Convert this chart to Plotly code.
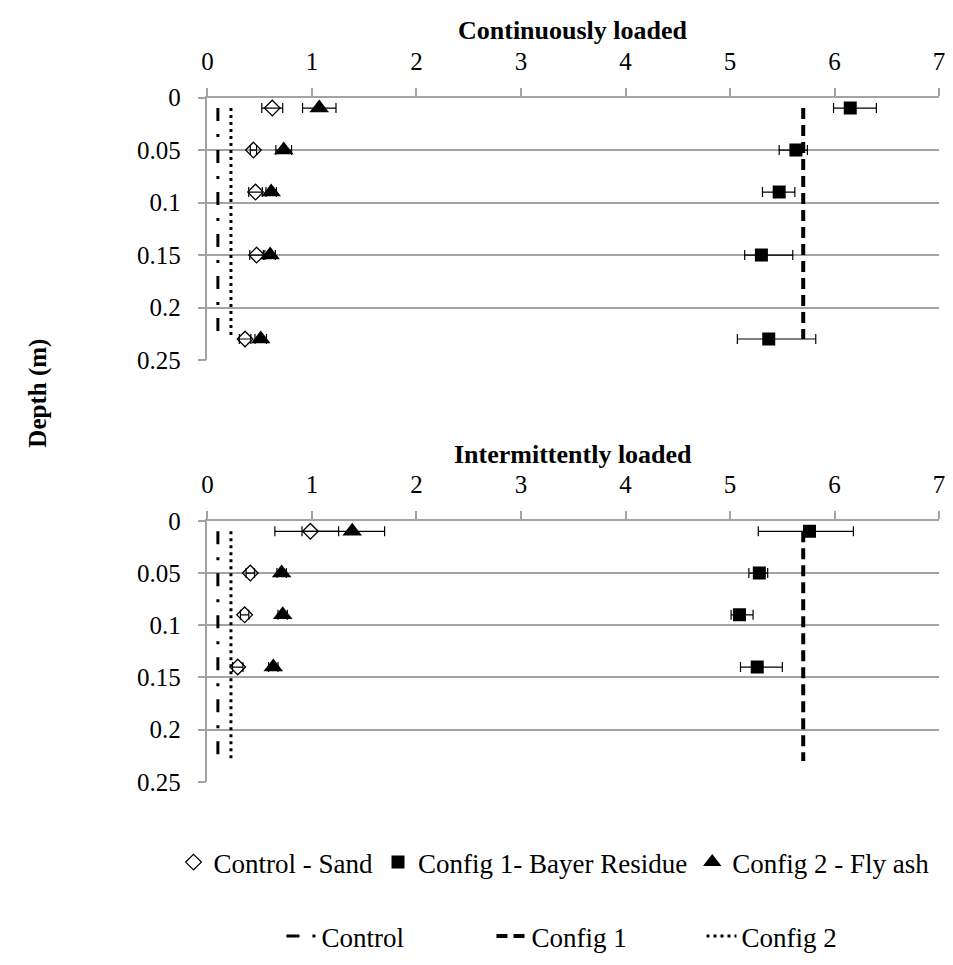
import plotly.graph_objects as go

# ---- Continuously loaded ----
cont_depth = [0.01, 0.05, 0.09, 0.15, 0.23]
cont_sand = [0.62, 0.44, 0.46, 0.47, 0.36]
cont_sand_err = [0.10, 0.03, 0.065, 0.065, 0.055]
cont_bayer = [6.15, 5.63, 5.47, 5.30, 5.37]
cont_bayer_err_minus = [0.16, 0.16, 0.16, 0.16, 0.30]
cont_bayer_err_plus = [0.25, 0.11, 0.15, 0.30, 0.45]
cont_flyash = [1.07, 0.73, 0.61, 0.60, 0.51]
cont_flyash_err = [0.16, 0.075, 0.05, 0.05, 0.055]

# ---- Intermittently loaded ----
int_depth = [0.01, 0.05, 0.09, 0.14]
int_sand = [0.985, 0.41, 0.356, 0.29]
int_sand_err_minus = [0.34, 0.04, 0.04, 0.05]
int_sand_err_plus = [0.27, 0.04, 0.04, 0.05]
int_bayer = [5.76, 5.28, 5.09, 5.26]
int_bayer_err_minus = [0.49, 0.10, 0.08, 0.16]
int_bayer_err_plus = [0.42, 0.08, 0.13, 0.24]
int_flyash = [1.385, 0.71, 0.72, 0.63]
int_flyash_err_minus = [0.48, 0.045, 0.045, 0.045]
int_flyash_err_plus = [0.31, 0.045, 0.045, 0.045]

# ---- Reference lines (same in both panels) ----
ref_depth = [0.01, 0.23]
control_value = 0.10
config1_value = 5.70
config2_value = 0.225

x_ticks = [0, 1, 2, 3, 4, 5, 6, 7]
depth_ticks = [0, 0.05, 0.1, 0.15, 0.2, 0.25]
depth_tick_text = ["0", "0.05", "0.1", "0.15", "0.2", "0.25"]

FONT = "Liberation Serif, Times New Roman, Times, serif"
GRID = "#a3a3a3"
W, H = 953, 965

fig = go.Figure()


def err(plus, minus=None):
    return dict(type="data", symmetric=minus is None, array=plus,
                arrayminus=minus, color="black", thickness=1.2, width=5)


def add_panel(xa, ya, depth, sand, sand_err, bayer, bayer_err, fly, fly_err, show):
    # reference lines first so markers sit on top
    fig.add_trace(go.Scatter(x=[control_value] * 2, y=ref_depth, mode="lines",
                             name="Control", legend="legend2", showlegend=show,
                             line=dict(color="black", width=3, dash="13px,13px,3px,13px"),
                             xaxis=xa, yaxis=ya))
    fig.add_trace(go.Scatter(x=[config1_value] * 2, y=ref_depth, mode="lines",
                             name="Config 1", legend="legend2", showlegend=show,
                             line=dict(color="black", width=4, dash="11px,6px"),
                             xaxis=xa, yaxis=ya))
    fig.add_trace(go.Scatter(x=[config2_value] * 2, y=ref_depth, mode="lines",
                             name="Config 2", legend="legend2", showlegend=show,
                             line=dict(color="black", width=3, dash="3px,4px"),
                             xaxis=xa, yaxis=ya))
    fig.add_trace(go.Scatter(x=sand, y=depth, mode="markers", name="Control - Sand",
                             legend="legend", showlegend=show,
                             marker=dict(symbol="diamond-open", size=12, color="black",
                                         line=dict(width=1.3, color="black")),
                             error_x=sand_err, xaxis=xa, yaxis=ya))
    fig.add_trace(go.Scatter(x=bayer, y=depth, mode="markers", name="Config 1- Bayer Residue",
                             legend="legend", showlegend=show,
                             marker=dict(symbol="square", size=13, color="black"),
                             error_x=bayer_err, xaxis=xa, yaxis=ya))
    fig.add_trace(go.Scatter(x=fly, y=depth, mode="markers", name="Config 2 - Fly ash",
                             legend="legend", showlegend=show,
                             marker=dict(symbol="triangle-up", size=17, color="black"),
                             error_x=fly_err, xaxis=xa, yaxis=ya))


add_panel("x", "y", cont_depth, cont_sand, err(cont_sand_err),
          cont_bayer, err(cont_bayer_err_plus, cont_bayer_err_minus),
          cont_flyash, err(cont_flyash_err), True)
add_panel("x2", "y2", int_depth, int_sand, err(int_sand_err_plus, int_sand_err_minus),
          int_bayer, err(int_bayer_err_plus, int_bayer_err_minus),
          int_flyash, err(int_flyash_err_plus, int_flyash_err_minus), False)

# plot areas in pixel terms
x_left, x_right = 204, 945
top_y0, top_y1 = 87, 357
bot_y0, bot_y1 = 522.5, 791

xdom = [x_left / W, x_right / W]


def ydom(y0, y1):
    return [1 - y1 / H, 1 - y0 / H]


tick_font = dict(family=FONT, size=25, color="black")
xaxis_style = dict(range=[0, 7], tickvals=x_ticks, side="top", showline=True,
                   linecolor=GRID, linewidth=1.5, ticks="outside", ticklen=8,
                   tickcolor=GRID, tickwidth=1.5, showgrid=False, zeroline=False,
                   tickfont=tick_font, ticklabelstandoff=8, domain=xdom)
yaxis_style = dict(range=[0.25, 0], tickvals=depth_ticks, ticktext=depth_tick_text,
                   showline=True, linecolor=GRID, linewidth=1.5, ticks="outside",
                   ticklen=8, tickcolor=GRID, tickwidth=1.5, showgrid=True,
                   gridcolor=GRID, gridwidth=1.5, zeroline=False, tickfont=tick_font,
                   ticklabelstandoff=12)

legend_font = dict(family=FONT, size=27, color="black")
title_font = dict(family=FONT, size=26, color="black")

fig.update_layout(
    width=W, height=H,
    margin=dict(l=0, r=0, t=0, b=0),
    paper_bgcolor="white", plot_bgcolor="white",
    font=dict(family=FONT, color="black"),
    xaxis=dict(xaxis_style, anchor="y"),
    yaxis=dict(yaxis_style, anchor="x", domain=ydom(top_y0, top_y1)),
    xaxis2=dict(xaxis_style, anchor="y2"),
    yaxis2=dict(yaxis_style, anchor="x2", domain=ydom(bot_y0, bot_y1)),
    legend=dict(orientation="h", x=555 / W, xanchor="center", y=1 - 874 / H,
                yanchor="middle", font=legend_font,
                bgcolor="rgba(0,0,0,0)", itemwidth=30),
    legend2=dict(orientation="h", x=598 / W, xanchor="center", y=1 - 950 / H,
                 yanchor="middle", font=legend_font, entrywidth=165,
                 bgcolor="rgba(0,0,0,0)", itemwidth=30),
    annotations=[
        dict(text="<b>Continuously loaded</b>", x=sum(xdom) / 2, y=1 - 18 / H,
             xanchor="center", yanchor="middle",
             xref="paper", yref="paper", showarrow=False, font=title_font),
        dict(text="<b>Intermittently loaded</b>", x=sum(xdom) / 2, y=1 - 454 / H,
             xanchor="center", yanchor="middle",
             xref="paper", yref="paper", showarrow=False, font=title_font),
        dict(text="<b>Depth (m)</b>", x=32 / W, y=1 - 391 / H, textangle=-90,
             xanchor="center", yanchor="middle",
             xref="paper", yref="paper", showarrow=False,
             font=dict(family=FONT, size=25, color="black")),
    ],
)

fig.write_html("out.html")
